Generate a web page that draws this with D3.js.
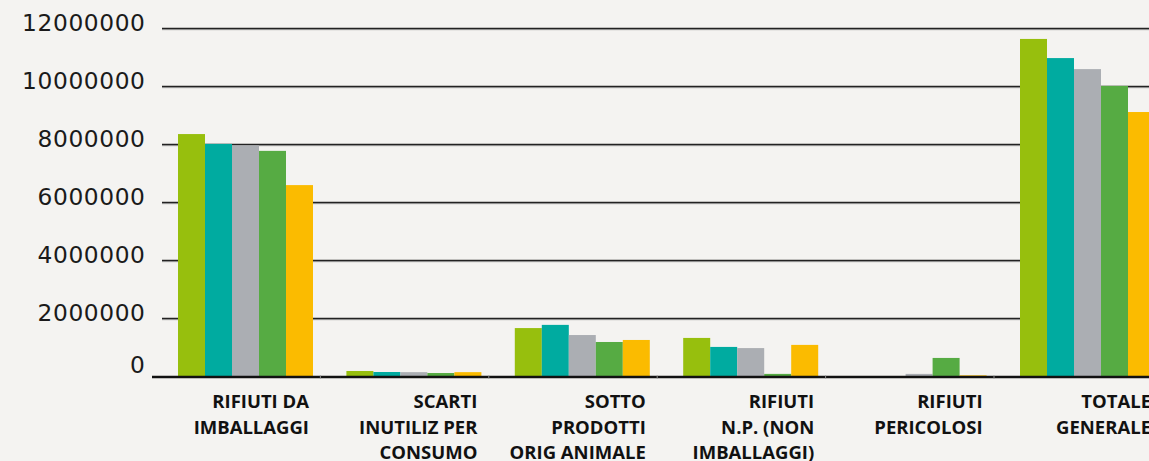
<!DOCTYPE html>
<html>
<head>
<meta charset="utf-8">
<script src="https://cdn.jsdelivr.net/npm/d3@7"></script>
<style>
  html, body { margin: 0; padding: 0; background: #f4f3f1; }
  svg { display: block; }
</style>
</head>
<body>
<svg id="chart" width="1149" height="461"></svg>
<script>
// ---- data ----
const categories = [
  ["RIFIUTI DA", "IMBALLAGGI"],
  ["SCARTI", "INUTILIZ PER", "CONSUMO"],
  ["SOTTO", "PRODOTTI", "ORIG ANIMALE"],
  ["RIFIUTI", "N.P. (NON", "IMBALLAGGI)"],
  ["RIFIUTI", "PERICOLOSI"],
  ["TOTALE", "GENERALE"]
];
const seriesNames = ["S1", "S2", "S3", "S4", "S5"];
const seriesColors = ["#97bf0d", "#00aba0", "#abaeb3", "#56ab43", "#fbbb00"];
const s1 = [8360000, 190000, 1670000, 1330000, 0, 11640000];
const s2 = [8020000, 155000, 1780000, 1020000, 0, 10980000];
const s3 = [7970000, 150000, 1430000, 980000, 90000, 10600000];
const s4 = [7780000, 120000, 1190000, 90000, 640000, 10020000];
const s5 = [6600000, 150000, 1260000, 1090000, 40000, 9120000];
const seriesValues = [s1, s2, s3, s4, s5];
const yTicks = [0, 2000000, 4000000, 6000000, 8000000, 10000000, 12000000];

// ---- layout ----
const svg = d3.select("#chart");
const W = 1149, H = 461;
svg.append("rect").attr("width", W).attr("height", H).attr("fill", "#f4f3f1");

const y = d3.scaleLinear().domain([0, 12000000]).range([376.5, 28.5]);
const step = 168.4;
const x0 = d3.scaleBand().domain(d3.range(categories.length))
  .range([152, 152 + step * categories.length]).padding(0);
const x1 = d3.scaleBand().domain(d3.range(seriesNames.length))
  .range([26, 26 + 27 * 5]).padding(0);

// gridlines
const grid = svg.append("g");
yTicks.filter(t => t > 0).forEach(t => {
  grid.append("line").attr("x1", 162).attr("x2", W)
    .attr("y1", y(t) + 1.2).attr("y2", y(t) + 1.2)
    .attr("stroke", "#a8a8a8").attr("stroke-width", 1);
  grid.append("line").attr("x1", 162).attr("x2", W)
    .attr("y1", y(t)).attr("y2", y(t))
    .attr("stroke", "#222").attr("stroke-width", 1.3);
});

// y labels
svg.append("g").selectAll("text").data(yTicks).join("text")
  .attr("x", 145.5).attr("y", d => y(d) + (d === 0 ? -4 : 2))
  .attr("text-anchor", "end")
  .attr("font-family", "DejaVu Sans")
  .attr("font-size", 23.3)
  .attr("letter-spacing", "0.6px")
  .attr("fill", "#1a1a1a")
  .text(d => d3.format("d")(d));

// bars
const groups = svg.append("g").selectAll("g").data(categories.map((c, i) => i)).join("g")
  .attr("transform", i => `translate(${x0(i)},0)`);
groups.selectAll("rect").data(i => seriesValues.map((s, k) => ({ k, v: s[i] })))
  .join("rect")
  .attr("x", d => x1(d.k))
  .attr("width", x1.bandwidth())
  .attr("y", d => y(d.v))
  .attr("height", d => y(0) - y(d.v))
  .attr("fill", d => seriesColors[d.k]);

// baseline
svg.append("line").attr("x1", 152).attr("x2", W)
  .attr("y1", y(0) + 0.5).attr("y2", y(0) + 0.5)
  .attr("stroke", "#111").attr("stroke-width", 2.6);
// category separators on baseline
svg.append("g").selectAll("line").data(d3.range(1, categories.length + 1)).join("line")
  .attr("x1", i => 152 + i * step).attr("x2", i => 152 + i * step)
  .attr("y1", y(0) - 1).attr("y2", y(0) + 2)
  .attr("stroke", "#8a8a8a").attr("stroke-width", 1);

// category labels
const lab = svg.append("g");
categories.forEach((lines, i) => {
  const t = lab.append("text")
    .attr("x", x0(i) + 157)
    .attr("y", 408)
    .attr("text-anchor", "end")
    .attr("font-family", "Open Sans")
    .attr("font-weight", 700)
    .attr("font-size", 18.5)
    .attr("fill", "#111");
  lines.forEach((ln, j) => {
    t.append("tspan").attr("x", x0(i) + 157).attr("y", 408 + j * 25.5).text(ln);
  });
});
</script>
</body>
</html>
